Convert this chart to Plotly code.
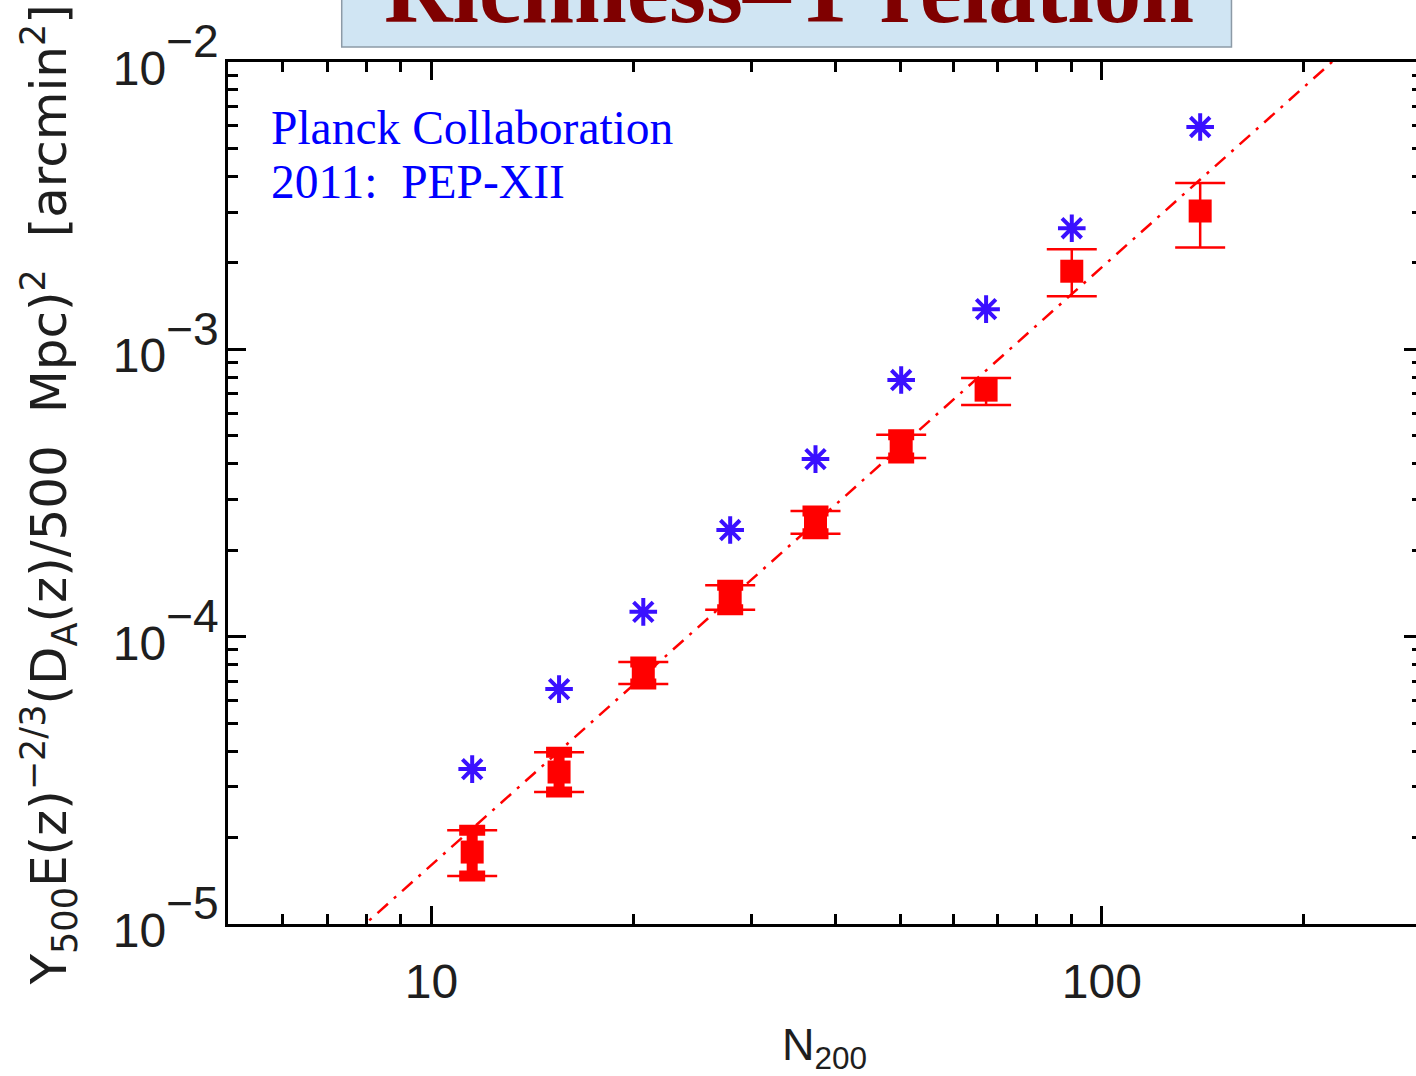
import numpy as np
import plotly.graph_objects as go

# Richness bins (N200) and stacked SZ signal
n200 = [11.5, 15.5, 20.7, 27.9, 37.4, 50.2, 67.2, 90.2, 140.2]
y_stack = [1.78e-5, 3.38e-5, 7.46e-5, 1.36e-4, 2.51e-4, 4.57e-4, 7.21e-4, 1.87e-3, 3.03e-3]
y_upper = [2.12e-5, 3.96e-5, 8.17e-5, 1.51e-4, 2.74e-4, 5.04e-4, 7.94e-4, 2.23e-3, 3.79e-3]
y_lower = [1.47e-5, 2.88e-5, 6.84e-5, 1.24e-4, 2.28e-4, 4.19e-4, 6.40e-4, 1.53e-3, 2.26e-3]

# Model prediction for the same bins
y_model = [3.46e-5, 6.57e-5, 1.22e-4, 2.35e-4, 4.15e-4, 7.82e-4, 1.38e-3, 2.64e-3, 5.94e-3]

# Power-law fit: Y = Y_PIVOT * (N / N_PIVOT) ** SLOPE
N_PIVOT = 40.0
Y_PIVOT = 2.87e-4
SLOPE = 2.08
n_fit = [5.0, 300.0]
y_fit = [Y_PIVOT * (n / N_PIVOT) ** SLOPE for n in n_fit]

x_major = [10, 100]
x_major_text = ["10", "100"]
x_minor = [6, 7, 8, 9, 20, 30, 40, 50, 60, 70, 80, 90, 200, 300]
y_major = [1e-5, 1e-4, 1e-3, 1e-2]
y_exponents = ["\u22125", "\u22124", "\u22123", "\u22122"]
y_minor = [k * 10.0 ** e for e in (-5, -4, -3) for k in range(2, 10)]

RED = "#ff0000"
BLUE = "#3a10ff"
INK = "#1e1e1e"

# mantissa at 48 px, exponent at 70 % of the larger tick font
y_major_text = ["<span style='font-size:48px'>10</span><sup>%s</sup>" % e for e in y_exponents]

fig = go.Figure()

fig.add_trace(go.Scatter(
    x=n_fit, y=y_fit, mode="lines",
    line=dict(color=RED, width=2.5, dash="14px,8px,3px,8px"),
    hoverinfo="skip", showlegend=False,
))

fig.add_trace(go.Scatter(
    x=n200, y=y_model, mode="markers",
    marker=dict(symbol="asterisk-open", size=23, color=BLUE,
                line=dict(color=BLUE, width=4)),
    showlegend=False,
))

err_plus = [u - y for u, y in zip(y_upper, y_stack)]
err_minus = [y - l for y, l in zip(y_stack, y_lower)]

# heavy inner bars on the low-richness bins
n_heavy = 6
fig.add_trace(go.Scatter(
    x=n200[:n_heavy], y=y_stack[:n_heavy], mode="markers",
    marker=dict(size=1, color="rgba(0,0,0,0)"),
    error_y=dict(type="data", symmetric=False, array=err_plus[:n_heavy],
                 arrayminus=err_minus[:n_heavy], color=RED, thickness=11, width=13),
    hoverinfo="skip", showlegend=False,
))

fig.add_trace(go.Scatter(
    x=n200, y=y_stack, mode="markers",
    marker=dict(symbol="square", size=23, color=RED),
    error_y=dict(type="data", symmetric=False, array=err_plus, arrayminus=err_minus,
                 color=RED, thickness=2.5, width=25),
    showlegend=False,
))

W, H = 1430, 1076
ML, MR, MT, MB = 228, 5, 62, 152
PW, PH = W - ML - MR, H - MT - MB
PX_PER_DECADE = 672.0
x_lo = 1.0 - (432 - ML) / PX_PER_DECADE
x_hi = x_lo + PW / PX_PER_DECADE


def px(xp):
    return (xp - ML) / PW


def py(yp):
    return (H - MB - yp) / PH


axis_common = dict(
    type="log", showgrid=False, zeroline=False,
    showline=True, linewidth=3, linecolor="black", mirror="ticks",
    ticks="inside", ticklen=18, tickwidth=2.5, tickcolor="black",
)

fig.update_xaxes(
    **axis_common,
    range=[x_lo, x_hi],
    tickmode="array", tickvals=x_major, ticktext=x_major_text,
    tickfont=dict(family="Liberation Sans", size=48, color=INK),
    ticklabelstandoff=13,
    minor=dict(tickmode="array", tickvals=x_minor, ticks="inside", ticklen=10,
               tickwidth=2.5, tickcolor="black", showgrid=False),
)
fig.update_yaxes(
    **axis_common,
    range=[-5, -2],
    tickmode="array", tickvals=y_major, ticktext=y_major_text,
    tickfont=dict(family="Liberation Sans", size=66, color=INK),
    ticklabelstandoff=-7,
    minor=dict(tickmode="array", tickvals=y_minor, ticks="inside", ticklen=10,
               tickwidth=2.5, tickcolor="black", showgrid=False),
)

# Title banner
fig.add_shape(type="rect", xref="paper", yref="paper",
              x0=px(342), x1=px(1234), y0=py(47), y1=py(-10),
              fillcolor="#d0e5f3", line=dict(color="#8c9aa6", width=1.5), layer="above")

annotations = [
    dict(text="<b>Richness\u2013Y relation</b>", x=px(790), y=py(-10),
         xanchor="center", yanchor="middle",
         font=dict(family="Liberation Serif", size=95, color="#7f0000")),
    dict(text="Planck Collaboration", x=px(269), y=py(128), xanchor="left", yanchor="middle",
         font=dict(family="Liberation Serif", size=47.5, color="#0000ff")),
    dict(text="2011:&nbsp; PEP-XII", x=px(269), y=py(182), xanchor="left", yanchor="middle",
         font=dict(family="Liberation Serif", size=47.5, color="#0000ff")),
    dict(text="N<sub>200</sub>", x=px(826), y=py(1047), xanchor="center", yanchor="middle",
         font=dict(family="Liberation Sans", size=45, color=INK)),
    dict(text="Y<sub>500</sub>E(z)<sup>\u22122/3</sup>(D<sub>A</sub>(z)/500&nbsp; Mpc)<sup>2</sup>&nbsp; [arcmin<sup>2</sup>]",
         x=px(49), y=py(495), xanchor="center", yanchor="middle", textangle=-90,
         font=dict(family="DejaVu Sans", size=50, color=INK)),
]
for a in annotations:
    a.update(xref="paper", yref="paper", showarrow=False)
fig.update_layout(annotations=annotations)

fig.update_layout(
    width=W, height=H,
    margin=dict(l=ML, r=MR, t=MT, b=MB, pad=0),
    paper_bgcolor="white", plot_bgcolor="white",
    showlegend=False,
)

fig.write_html(
    "out.html",
    post_script="document.documentElement.style.overflow='hidden';"
                "document.body.style.overflow='hidden';document.body.style.margin='0';",
)
